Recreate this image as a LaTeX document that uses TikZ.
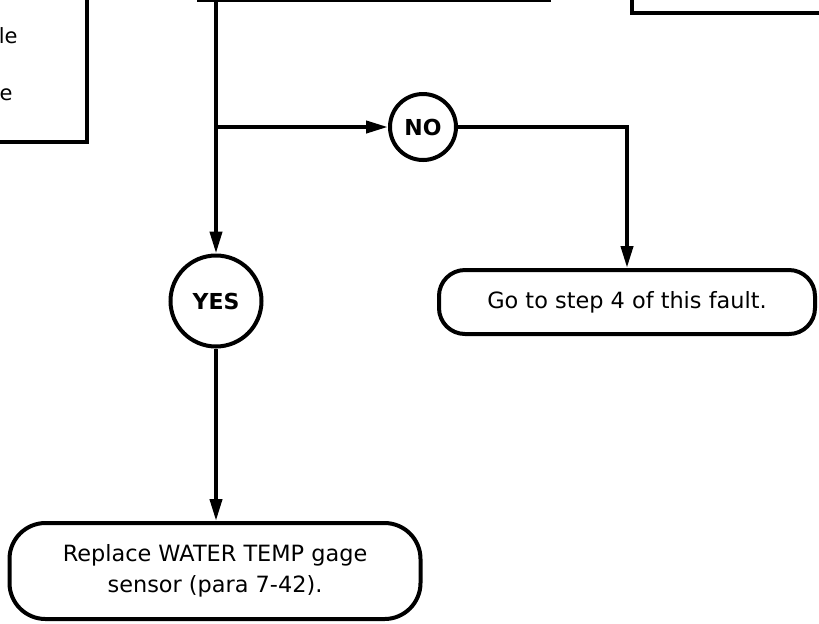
\documentclass[tikz,border=0pt]{standalone}
\usepackage{fontspec}
\setmainfont{DejaVu Sans}
\usetikzlibrary{arrows.meta,positioning}
\tikzset{
  box/.style={draw,line width=2pt},
  endbox/.style={draw,line width=2pt,align=center,font=\fontsize{11.2}{15.5}\selectfont},
  ans/.style={draw,circle,line width=2pt,inner sep=0pt,font=\bfseries\fontsize{11}{13}\selectfont},
  cut/.style={inner sep=0pt,font=\fontsize{10.5}{13}\selectfont},
  arr/.style={-{Triangle[length=11pt,width=6pt]},line width=2pt}
}
\begin{document}
\begin{tikzpicture}[x=0.5pt,y=-0.5pt]
        \useasboundingbox (0,0) rectangle (819,623);
        \clip (0,0) rectangle (819,623);
        % boxes cut off by the page edge
        \node[box,anchor=south east,minimum width=150pt,minimum height=120pt] (prev) at (89,144) {};
        \node[cut,anchor=base east] (prevA) at (18,43) {le};
        \node[cut,anchor=base east] (prevB) at (13,100) {e};
        \node[box,anchor=south,minimum width=175pt,minimum height=60pt] (chk) at (374,1.5) {};
        \node[box,anchor=south west,minimum width=150pt,minimum height=60pt] (side) at (630,15) {};
        % answers
        \node[ans,minimum size=45.5pt] (yes) at (216,301) {YES};
        \node[ans,minimum size=33pt] (no) at (423,127) {NO};
        \node[endbox,rounded corners=13pt,minimum width=188pt,minimum height=32pt] (go) at (627,302) {Go to step 4 of this fault.};
        \node[endbox,rounded corners=18pt,minimum width=205.5pt,minimum height=48pt] (fix) at (215,571) {Replace WATER TEMP gage\\sensor (para 7-42).};
        \coordinate (split) at (yes |- no);
        \draw[arr] (chk.south -| yes) -- (yes);
        \draw[arr] (split) -- (no);
        \draw[arr] (no) -| (go);
        \draw[arr] (yes) -- (yes |- fix.north);
      \end{tikzpicture}
\end{document}
